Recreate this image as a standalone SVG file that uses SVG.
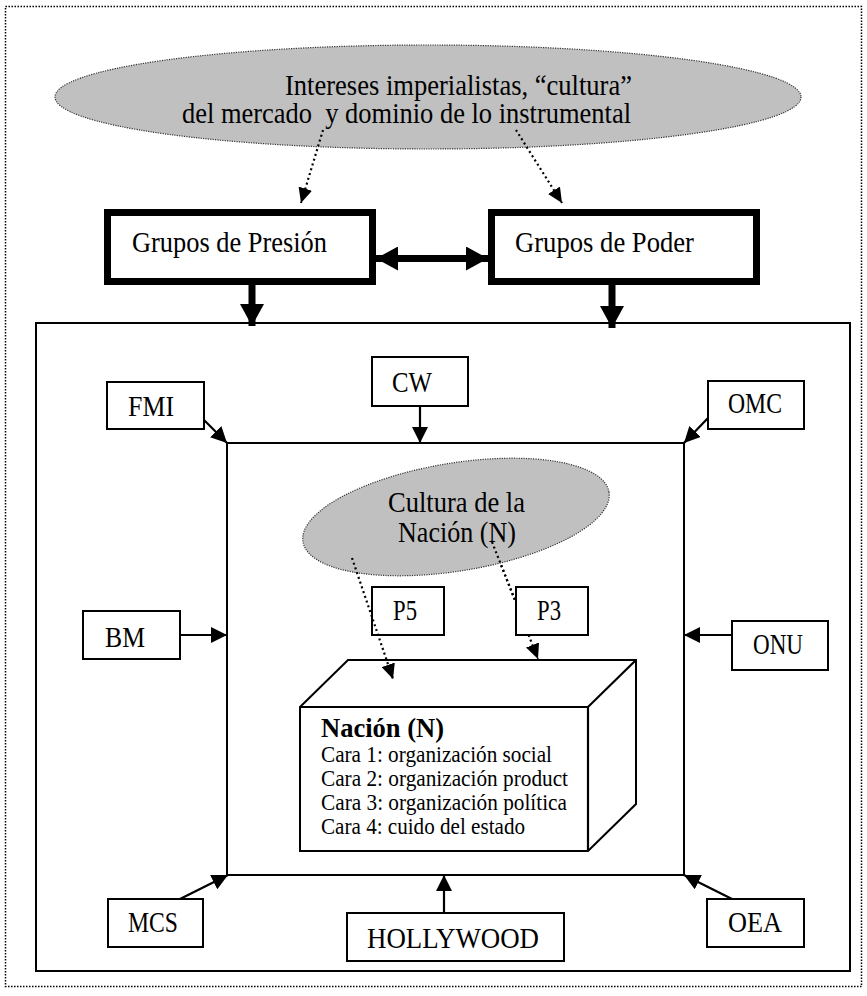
<svg xmlns="http://www.w3.org/2000/svg" width="867" height="996" viewBox="0 0 867 996">
<style>
text{font-family:"Liberation Serif","Times New Roman",serif;fill:#000}
.t{font-size:28.5px}
.s{font-size:22.5px}
.b{font-weight:bold;font-size:28px}
.box{fill:#fff;stroke:#000;stroke-width:2}
.thick{fill:#fff;stroke:#000;stroke-width:7}
.ell{fill:#c0c0c0;stroke:#333;stroke-width:1.2;stroke-dasharray:1.2 1.2}
.ln{fill:none;stroke:#000;stroke-width:2.2}
.tk{fill:none;stroke:#000;stroke-width:7}
.dt{fill:none;stroke:#000;stroke-width:2.2;stroke-dasharray:2 3}
</style>
<defs>
<marker id="ah" markerUnits="userSpaceOnUse" markerWidth="16" markerHeight="16" refX="16" refY="8" orient="auto"><path d="M0,0 L16,8 L0,16 z" fill="#000"/></marker>
<marker id="ahd" markerUnits="userSpaceOnUse" markerWidth="15" markerHeight="14" refX="15" refY="7" orient="auto"><path d="M0,0 L15,7 L0,14 z" fill="#000"/></marker>
<marker id="ahk" markerUnits="userSpaceOnUse" markerWidth="22" markerHeight="24" refX="22" refY="12" orient="auto-start-reverse"><path d="M0,0 L22,12 L0,24 z" fill="#000"/></marker>
</defs>

<rect id="frame" x="5.5" y="6.5" width="856" height="980" fill="none" stroke="#000" stroke-width="1.5" stroke-dasharray="1.5 1.5"/>

<g id="mundo"><rect x="36" y="323" width="814" height="648" class="box"/></g>
<g id="nacion-marco"><rect x="227" y="443" width="457" height="432" class="box"/></g>

<g id="intereses">
<ellipse cx="428" cy="97" rx="373" ry="52" class="ell"/>
<text class="t" x="285" y="95" textLength="347" lengthAdjust="spacingAndGlyphs">Intereses imperialistas, “cultura”</text>
<text class="t" x="182" y="123" xml:space="preserve" textLength="449" lengthAdjust="spacingAndGlyphs">del mercado  y dominio de lo instrumental</text>
</g>

<g id="presion"><rect x="107.5" y="212.5" width="265" height="69" class="thick"/><text class="t" x="132" y="252" textLength="195" lengthAdjust="spacingAndGlyphs">Grupos de Presión</text></g>
<g id="poder"><rect x="491.5" y="212.5" width="265" height="69" class="thick"/><text class="t" x="515" y="252" textLength="179" lengthAdjust="spacingAndGlyphs">Grupos de Poder</text></g>

<g id="connectors">
<line x1="323" y1="130" x2="301" y2="203" class="dt" marker-end="url(#ahd)"/>
<line x1="516" y1="130" x2="562" y2="203" class="dt" marker-end="url(#ahd)"/>
<line x1="376" y1="258.5" x2="488" y2="258.5" class="tk" marker-start="url(#ahk)" marker-end="url(#ahk)"/>
<line x1="252" y1="285" x2="252" y2="326" class="tk" marker-end="url(#ahk)"/>
<line x1="612" y1="285" x2="612" y2="328" class="tk" marker-end="url(#ahk)"/>
<line x1="204" y1="420" x2="227" y2="443" class="ln" marker-end="url(#ah)"/>
<line x1="420" y1="406" x2="420" y2="443" class="ln" marker-end="url(#ah)"/>
<line x1="708" y1="418" x2="684" y2="443" class="ln" marker-end="url(#ah)"/>
<line x1="180" y1="635" x2="227" y2="635" class="ln" marker-end="url(#ah)"/>
<line x1="732" y1="635" x2="684" y2="635" class="ln" marker-end="url(#ah)"/>
<line x1="180" y1="899" x2="228" y2="875" class="ln" marker-end="url(#ah)"/>
<line x1="444" y1="913" x2="444" y2="875" class="ln" marker-end="url(#ah)"/>
<line x1="732" y1="899" x2="684" y2="875" class="ln" marker-end="url(#ah)"/>
<line x1="492" y1="542" x2="538" y2="659" class="dt" marker-end="url(#ahd)"/>
</g>

<g id="cultura">
<ellipse cx="456" cy="517" rx="155" ry="54" transform="rotate(-9.2 456 517)" class="ell"/>
<text class="t" x="388" y="512" textLength="137" lengthAdjust="spacingAndGlyphs">Cultura de la</text>
<text class="t" x="398" y="542" textLength="118" lengthAdjust="spacingAndGlyphs">Nación (N)</text>
</g>
<line x1="492" y1="542" x2="515" y2="600" class="dt"/>

<g id="fmi"><rect x="107" y="382" width="97" height="47" class="box"/><text class="t" x="128" y="416" textLength="46" lengthAdjust="spacingAndGlyphs">FMI</text></g>
<g id="cw"><rect x="372" y="357" width="96" height="49" class="box"/><text class="t" x="392" y="392" textLength="40" lengthAdjust="spacingAndGlyphs">CW</text></g>
<g id="omc"><rect x="708" y="381" width="96" height="48" class="box"/><text class="t" x="728" y="413" textLength="54" lengthAdjust="spacingAndGlyphs">OMC</text></g>
<g id="bm"><rect x="83" y="611" width="97" height="48" class="box"/><text class="t" x="105" y="647" textLength="40" lengthAdjust="spacingAndGlyphs">BM</text></g>
<g id="onu"><rect x="732" y="621" width="96" height="49" class="box"/><text class="t" x="753" y="654" textLength="50" lengthAdjust="spacingAndGlyphs">ONU</text></g>
<g id="p5"><rect x="372" y="587" width="72" height="48" class="box"/><text class="t" x="393" y="620" textLength="24" lengthAdjust="spacingAndGlyphs">P5</text></g>
<g id="p3"><rect x="516" y="587" width="72" height="48" class="box"/><text class="t" x="537" y="620" textLength="24" lengthAdjust="spacingAndGlyphs">P3</text></g>
<g id="mcs"><rect x="108" y="899" width="95" height="48" class="box"/><text class="t" x="128" y="932" textLength="50" lengthAdjust="spacingAndGlyphs">MCS</text></g>
<g id="hollywood"><rect x="347" y="913" width="217" height="48" class="box"/><text class="t" x="367" y="948" textLength="172" lengthAdjust="spacingAndGlyphs">HOLLYWOOD</text></g>
<g id="oea"><rect x="707" y="899" width="97" height="48" class="box"/><text class="t" x="728" y="932" textLength="54" lengthAdjust="spacingAndGlyphs">OEA</text></g>

<g id="nacion">
<path d="M300,707 L348,660 L636,660 L636,804 L588,851 L300,851 Z" class="box"/>
<path d="M300,707 L588,707 L636,660 M588,707 L588,851" class="ln"/>
<text class="b" x="321" y="737" textLength="123" lengthAdjust="spacingAndGlyphs">Nación (N)</text>
<text class="s" x="321" y="762" textLength="231" lengthAdjust="spacingAndGlyphs">Cara 1: organización social</text>
<text class="s" x="321" y="786" textLength="247" lengthAdjust="spacingAndGlyphs">Cara 2: organización product</text>
<text class="s" x="321" y="810" textLength="246" lengthAdjust="spacingAndGlyphs">Cara 3: organización política</text>
<text class="s" x="321" y="834" textLength="204" lengthAdjust="spacingAndGlyphs">Cara 4: cuido del estado</text>
</g>
<line x1="352" y1="558" x2="393" y2="679" class="dt" marker-end="url(#ahd)"/>
</svg>
